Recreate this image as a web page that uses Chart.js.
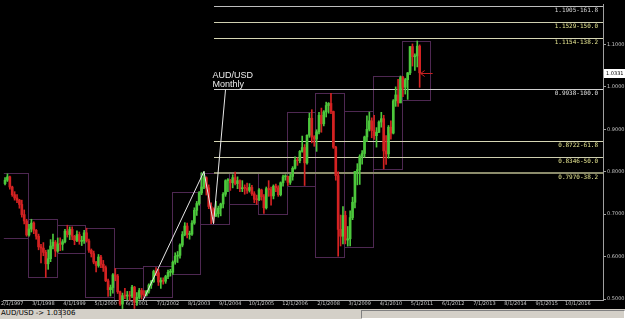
<!DOCTYPE html>
<html>
<head>
<meta charset="utf-8">
<script src="https://cdn.jsdelivr.net/npm/chart.js@4"></script>
<style>
html, body { margin: 0; padding: 0; background: #000; width: 625px; height: 319px; overflow: hidden; }
#wrap { position: relative; width: 625px; height: 309px; }
#status { position: relative; width: 625px; height: 10px; background: #d4d0c8; font: 7px "DejaVu Sans", sans-serif; color: #000; }
#status .left { position: absolute; left: 0; top: 0; width: 60px; height: 9px; line-height: 9px; border-right: 1px solid #808080; padding-left: 1px; white-space: nowrap; }
#status .right { position: absolute; left: 361px; top: 1px; width: 262px; height: 7px; border-top: 1px solid #808080; border-left: 1px solid #808080; border-bottom: 1px solid #fff; border-right: 1px solid #fff; }
</style>
</head>
<body>
<div id="wrap"><canvas id="myChart"></canvas></div>
<div id="status"><div class="left">AUD/USD -&gt; 1.03306</div><div class="right"></div></div>
<script>
// x categories, one per month (Nov 1996 .. Aug 2017)
const months = [];
for (let k = 0; k < 250; k++) {
  months.push(((10 + k) % 12 + 1) + '/1/' + (1996 + Math.floor((10 + k) / 12)));
}
const tickLabels = ['2/1/1997','3/1/1998','4/1/1999','5/1/2000','6/1/2001','7/1/2002','8/1/2003','9/1/2004',
  '10/1/2005','12/1/2006','2/1/2008','3/1/2009','4/1/2010','5/1/2011','6/1/2012','7/1/2013','8/1/2014','9/1/2015','10/1/2016'];
const yTicks = [0.5, 0.6, 0.7, 0.8, 0.9, 1.0, 1.1];

// monthly candles
const opens = [
  .7720,.7800,.7880,.7640,.7460,.7380,.7330,.7230,.6990,.6840,
  .6510,.6650,.6790,.6620,.6480,.6230,.6200,.6100,.5830,.5950,.6250,.6340,
  .6130,.6300,.6290,.6350,.6600,.6520,.6640,.6480,.6380,.6520,.6360,.6370,
  .6560,.6370,.6150,.6070,.5870,.5790,.5990,.5820,.5740,.5430,.5220,.5270,
  .5570,.5540,.5170,.4880,.5080,.5070,.5090,.5070,.5280,.4920,.5040,.5200,
  .5110,.5090,.5190,.5330,.5410,.5650,.5620,.5400,.5440,.5420,.5530,.5630,
  .5630,.5870,.6010,.6030,.6270,.6520,.6720,.6520,.6530,.6790,.7090,.7250,
  .7500,.7640,.7860,.7620,.7180,.7120,.6960,.7010,.7140,.7240,.7470,.7790,
  .7800,.7740,.7860,.7720,.7790,.7600,.7620,.7610,.7560,.7630,.7480,.7350,
  .7340,.7570,.7410,.7150,.7600,.7580,.7430,.7660,.7620,.7460,.7740,.7880,
  .7890,.7750,.7890,.8080,.8270,.8260,.8480,.8570,.8210,.8860,.9260,.8820,
  .8770,.8940,.9330,.9130,.9410,.9560,.9610,.9420,.8580,.7910,.6640,.6480,
  .6970,.6390,.6420,.6920,.7280,.8010,.8050,.8360,.8430,.8820,.9000,.9200,
  .8970,.8850,.8930,.9170,.9250,.8490,.8420,.9050,.8910,.9670,.9810,.9620,
  1.0220,.9990,1.0170,1.0330,1.0950,1.0710,1.0730,1.0960
];
const highs = [
  .7860,.7950,.7900,.7660,.7530,.7460,.7350,.7330,.7100,.6880,
  .6760,.6880,.6820,.6640,.6530,.6290,.6330,.6150,.6160,.6400,.6530,.6380,
  .6440,.6440,.6400,.6640,.6740,.6700,.6700,.6500,.6610,.6580,.6480,.6620,
  .6670,.6410,.6180,.6130,.5890,.6050,.6030,.5910,.5780,.5470,.5330,.5600,
  .5720,.5580,.5190,.5140,.5250,.5180,.5180,.5320,.5300,.5150,.5250,.5250,
  .5200,.5200,.5360,.5440,.5680,.5740,.5700,.5500,.5500,.5560,.5680,.5700,
  .5900,.6090,.6120,.6300,.6590,.6800,.6790,.6600,.6850,.7150,.7300,.7530,
  .7980,.8006,.7880,.7690,.7270,.7150,.7300,.7190,.7260,.7510,.7810,.7840,
  .7820,.7930,.7990,.7880,.7810,.7790,.7690,.7730,.7720,.7680,.7530,.7450,
  .7600,.7590,.7460,.7640,.7790,.7640,.7690,.7710,.7670,.7760,.7920,.7930,
  .7900,.7940,.8120,.8350,.8330,.8500,.8840,.8640,.8870,.9380,.9462,.8850,
  .8990,.9400,.9500,.9440,.9640,.9630,.9849,.9430,.8600,.8000,.6980,.7180,
  .7070,.6710,.7080,.7400,.8010,.8190,.8400,.8500,.8840,.9320,.9406,.9270,
  .9330,.9040,.9200,.9400,.9330,.8850,.9090,.9200,.9700,1.0000,1.0180,1.0256,
  1.0250,1.0200,1.0340,1.0950,1.1012,1.0780,1.1081,1.0990
];
const lows = [
  .7690,.7770,.7590,.7420,.7330,.7270,.7140,.6930,.6770,.6480,
  .6480,.6580,.6540,.6410,.6160,.5850,.6020,.5510,.5700,.5880,.6180,.6000,
  .6100,.6140,.6150,.6320,.6460,.6400,.6400,.6280,.6350,.6290,.6260,.6310,
  .6340,.6100,.5990,.5830,.5640,.5750,.5740,.5650,.5410,.5060,.5070,.5140,
  .5430,.5130,.4850,.4775,.5010,.4980,.4970,.5030,.4776,.4850,.5000,.5000,
  .5060,.5070,.5140,.5250,.5390,.5550,.5320,.5250,.5350,.5370,.5480,.5540,
  .5580,.5820,.5860,.5960,.6230,.6490,.6440,.6410,.6500,.6760,.6970,.7210,
  .7460,.7600,.7450,.7130,.6775,.6800,.6940,.6930,.6960,.7150,.7420,.7530,
  .7560,.7620,.7690,.7600,.7530,.7530,.7470,.7490,.7520,.7440,.7270,.7230,
  .7320,.7330,.7020,.7120,.7420,.7210,.7360,.7530,.7420,.7430,.7660,.7800,
  .7680,.7700,.7800,.8060,.8150,.8210,.8460,.7675,.8180,.8810,.8680,.8600,
  .8480,.8890,.8930,.9080,.9290,.9380,.9370,.8550,.7800,.6009,.6250,.6300,
  .6300,.6247,.6250,.6870,.7150,.7690,.7700,.8180,.8340,.8710,.8960,.8800,
  .8760,.8580,.8920,.9050,.8067,.8170,.8320,.8770,.8890,.9540,.9540,.9630,
  .9770,.9830,.9705,1.0290,1.0490,1.0390,1.0470,.9990
];
const closes = [
  .7800,.7880,.7640,.7460,.7380,.7330,.7230,.6990,.6840,.6510,
  .6650,.6790,.6620,.6480,.6230,.6200,.6100,.5830,.5950,.6250,.6340,.6130,
  .6300,.6290,.6350,.6600,.6520,.6640,.6480,.6380,.6520,.6360,.6370,.6560,
  .6370,.6150,.6070,.5870,.5790,.5990,.5820,.5740,.5430,.5220,.5270,.5570,
  .5540,.5170,.4880,.5080,.5070,.5090,.5070,.5280,.4920,.5040,.5200,.5110,
  .5090,.5190,.5330,.5410,.5650,.5620,.5400,.5440,.5420,.5530,.5630,.5630,
  .5870,.6010,.6030,.6270,.6520,.6720,.6520,.6530,.6790,.7090,.7250,.7500,
  .7640,.7860,.7620,.7180,.7120,.6960,.7010,.7140,.7240,.7470,.7790,.7800,
  .7740,.7860,.7720,.7790,.7600,.7620,.7610,.7560,.7630,.7480,.7350,.7340,
  .7570,.7410,.7150,.7600,.7580,.7430,.7660,.7620,.7460,.7740,.7880,.7890,
  .7750,.7890,.8080,.8270,.8260,.8480,.8570,.8210,.8860,.9260,.8820,.8770,
  .8940,.9330,.9130,.9410,.9560,.9610,.9420,.8580,.7910,.6640,.6480,.6970,
  .6390,.6420,.6920,.7280,.8010,.8050,.8360,.8430,.8820,.9000,.9200,.8970,
  .8850,.8930,.9170,.9250,.8490,.8420,.9050,.8910,.9670,.9810,.9620,1.0220,
  .9990,1.0170,1.0330,1.0950,1.0710,1.0730,1.0960,1.0331
];
const lastPrice = 1.0331;

// yearly high/low boxes (first category of each box)
const boxStart = [-2, 10, 22, 34, 46, 58, 70, 82, 94, 106, 118, 130, 142, 154, 166];
const boxHigh = [0.798, 0.688, 0.674, 0.667, 0.572, 0.579, 0.753, 0.798, 0.798, 0.798, 0.940, 0.986, 0.942, 1.026, 1.109];
const boxLow = [0.644, 0.551, 0.609, 0.505, 0.4775, 0.505, 0.558, 0.677, 0.723, 0.700, 0.767, 0.598, 0.623, 0.807, 0.970];

// fibonacci projection
const fibStart = 87;
const fibLevels = [1.1905, 1.1529, 1.1154, 0.9938, 0.8722, 0.8346, 0.7970];
const fibLabels = ['1.1905-161.8', '1.1529-150.0', '1.1154-138.2', '0.9938-100.0', '0.8722-61.8', '0.8346-50.0', '0.7970-38.2'];

// hand drawn zigzag
const zigIdx = [56, 83, 87, 92];
const zigVal = [0.4776, 0.8006, 0.6775, 0.9938];

const UP = '#4cc83c', DOWN = '#d42222';
const candleColors = opens.map((o, i) => closes[i] >= o ? UP : DOWN);
const fibLineColors = ['#bdbdbd', '#cfcfb0', '#d6d6b4', '#cfcfcf', '#d6d6b4', '#cfcfb0', '#8c8c6c'];
const fibTextColors = ['#d8d8d8', '#e4e490', '#e4e490', '#e0e0e0', '#e4e490', '#e4e490', '#e4e490'];

const overlay = {
  id: 'overlay',
  beforeDatasetsDraw(chart) {
    const {ctx, chartArea: a, scales: {x, y}} = chart;
    const step = x.getPixelForValue(1) - x.getPixelForValue(0);
    ctx.save();
    ctx.beginPath();
    ctx.rect(a.left, a.top, a.right - a.left, a.bottom - a.top);
    ctx.clip();
    // boxes
    ctx.strokeStyle = '#4e2852';
    ctx.lineWidth = 1;
    boxStart.forEach((s, k) => {
      const x0 = Math.round(x.getPixelForValue(s) - step / 2) + 0.5;
      const x1 = Math.round(x.getPixelForValue(s + 11) + step / 2) + 0.5;
      const y0 = Math.round(y.getPixelForValue(boxHigh[k])) + 0.5;
      const y1 = Math.round(y.getPixelForValue(boxLow[k])) + 0.5;
      ctx.strokeRect(x0, y0, x1 - x0, y1 - y0);
    });
    // fib lines
    const fx = Math.round(x.getPixelForValue(fibStart));
    fibLevels.forEach((v, k) => {
      const yy = Math.round(y.getPixelForValue(v));
      const last = k === fibLevels.length - 1;
      ctx.strokeStyle = fibLineColors[k];
      ctx.lineWidth = last ? 2 : 1;
      ctx.beginPath();
      ctx.moveTo(fx, last ? yy : yy + 0.5);
      ctx.lineTo(a.right, last ? yy : yy + 0.5);
      ctx.stroke();
    });
    ctx.restore();
  },
  afterDatasetsDraw(chart) {
    const {ctx, chartArea: a, scales: {x, y}} = chart;
    ctx.save();
    // fib labels
    ctx.font = '6px "DejaVu Sans Mono", monospace';
    ctx.textAlign = 'right';
    ctx.textBaseline = 'top';
    fibLevels.forEach((v, k) => {
      ctx.fillStyle = fibTextColors[k];
      ctx.fillText(fibLabels[k], a.right - 5, Math.round(y.getPixelForValue(v)) + 1.5);
    });
    // title
    ctx.font = '9px "Liberation Sans", Arial, sans-serif';
    ctx.textAlign = 'left';
    ctx.fillStyle = '#ececec';
    const tx = x.getPixelForValue(fibStart) - 1;
    const ty = y.getPixelForValue(1.037);
    ctx.fillText('AUD/USD', tx, ty);
    ctx.fillText('Monthly', tx, ty + 9);
    // last price arrow
    const py = Math.round(y.getPixelForValue(lastPrice)) + 0.5;
    const ax = x.getPixelForValue(opens.length - 1) + 1;
    ctx.strokeStyle = '#c82020';
    ctx.lineWidth = 1;
    ctx.beginPath();
    ctx.moveTo(ax, py); ctx.lineTo(ax + 12, py);
    ctx.moveTo(ax, py); ctx.lineTo(ax + 4, py - 3);
    ctx.moveTo(ax, py); ctx.lineTo(ax + 4, py + 3);
    ctx.stroke();
    // last price tag on axis
    ctx.fillStyle = '#ffffff';
    ctx.fillRect(a.right + 1, py - 4.5, 21, 9);
    ctx.fillStyle = '#000';
    ctx.font = '5px "DejaVu Sans", sans-serif';
    ctx.textBaseline = 'middle';
    ctx.fillText(lastPrice.toFixed(4), a.right + 3, py);
    ctx.restore();
  }
};

const ctx = document.getElementById('myChart').getContext('2d');
const myChart = new Chart(ctx, {
  type: 'bar',
  data: {
    labels: months,
    datasets: [{
      type: 'line',
      label: 'zigzag',
      data: zigIdx.map((d, i) => ({x: months[d], y: zigVal[i]})),
      borderColor: '#e8e8e8',
      borderWidth: 1,
      pointRadius: 0,
      tension: 0,
      order: 0
    }, {
      label: 'body',
      data: opens.map((o, i) => [o, closes[i]]),
      backgroundColor: candleColors,
      barThickness: 2,
      minBarLength: 1,
      grouped: false,
      clip: false,
      order: 1
    }, {
      label: 'wick',
      data: lows.map((l, i) => [l, highs[i]]),
      backgroundColor: candleColors,
      barThickness: 1,
      grouped: false,
      clip: false,
      order: 2
    }]
  },
  options: {
    responsive: true,
    maintainAspectRatio: false,
    animation: false,
    devicePixelRatio: 1,
    layout: { padding: 0 },
    plugins: { legend: { display: false }, tooltip: { enabled: false } },
    scales: {
      x: {
        type: 'category',
        offset: true,
        grid: { display: true, drawOnChartArea: false, drawTicks: false, color: '#909090' },
        border: { color: '#a8a8a8' },
        ticks: {
          autoSkip: false, maxRotation: 0, padding: 1, color: '#c8c8c8',
          font: { size: 5, family: '"DejaVu Sans", sans-serif' }
        },
        afterBuildTicks: s => { s.ticks = s.ticks.filter(t => tickLabels.includes(months[t.value])); },
        afterFit: s => { s.height = 9; }
      },
      y: {
        type: 'linear',
        position: 'right',
        min: 0.4977,
        max: 1.1953,
        grid: { drawOnChartArea: false, tickLength: 3, color: '#a0a0a0' },
        border: { color: '#a0a0a0' },
        ticks: {
          padding: 1, color: '#c8c8c8',
          font: { size: 5, family: '"DejaVu Sans", sans-serif' },
          callback: v => Number(v).toFixed(4)
        },
        afterBuildTicks: s => { s.ticks = yTicks.map(v => ({value: v})); },
        afterFit: s => { s.width = 22; }
      }
    }
  },
  plugins: [overlay]
});
</script>
</body>
</html>
